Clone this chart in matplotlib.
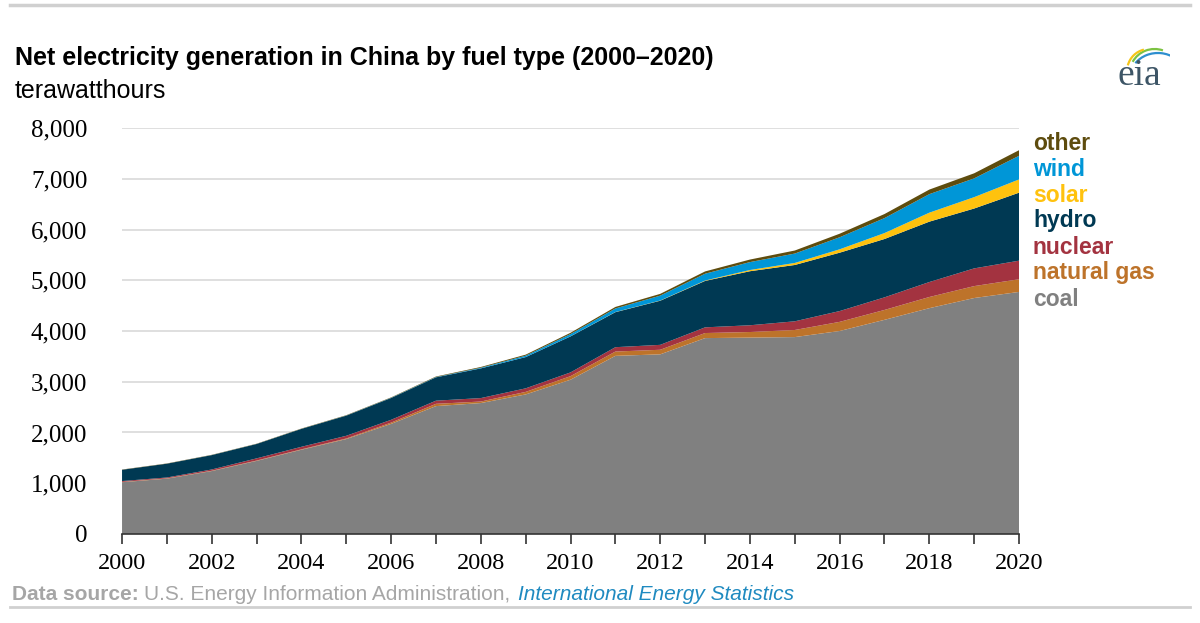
import numpy as np
import matplotlib
matplotlib.use("Agg")
import matplotlib.pyplot as plt
from matplotlib.patches import Arc
from matplotlib.lines import Line2D

# net generation, terawatthours
years = list(range(2000, 2021))
coal = [1020, 1090, 1240, 1440, 1660, 1870, 2170, 2520, 2580, 2750, 3040,
        3510, 3540, 3860, 3870, 3880, 4000, 4220, 4450, 4650, 4770]
natural_gas = [6, 6, 6, 7, 8, 12, 25, 45, 30, 50, 70,
               85, 90, 100, 110, 140, 180, 195, 220, 235, 250]
nuclear = [17, 17, 25, 43, 50, 53, 55, 62, 68, 70, 74,
           86, 97, 112, 133, 171, 213, 248, 295, 349, 366]
hydro = [222, 272, 283, 283, 353, 397, 430, 460, 585, 616, 710,
         690, 870, 915, 1065, 1110, 1150, 1150, 1190, 1180, 1340]
solar = [0, 0, 0, 0, 0, 0, 0, 0, 0, 0, 1,
         3, 4, 8, 24, 40, 67, 117, 177, 224, 261]
wind = [0, 0, 1, 1, 1, 2, 4, 6, 13, 28, 45,
        70, 96, 134, 156, 185, 237, 295, 365, 370, 466]
other = [5, 5, 5, 5, 6, 7, 8, 10, 15, 20, 25,
         30, 35, 45, 50, 60, 70, 80, 90, 100, 110]

series = [coal, natural_gas, nuclear, hydro, solar, wind, other]
names = ["coal", "natural gas", "nuclear", "hydro", "solar", "wind", "other"]
colors = ["#808080", "#bd732a", "#a33340", "#003953", "#ffc20e", "#0096d7", "#5e4c0e"]

fig = plt.figure(figsize=(12, 6.23), dpi=100)
ax = fig.add_axes([0.1017, 0.1429, 0.7475, 0.6516])

ax.stackplot(years, *series, colors=colors, linewidth=0)

ax.set_xlim(2000, 2020)
ax.set_ylim(0, 8000)
ax.set_yticks(range(0, 8001, 1000))
ax.set_yticklabels([f"{v:,}" for v in range(0, 8001, 1000)])
ax.set_xticks(range(2000, 2021, 2))
ax.set_xticks(range(2000, 2021), minor=True)
for lab in ax.get_yticklabels():
    lab.set_fontfamily("Liberation Serif")
    lab.set_fontsize(18)
for lab in ax.get_xticklabels():
    lab.set_fontfamily("Liberation Serif")
    lab.set_fontsize(17.5)
ax.tick_params(axis="y", length=0, pad=25)
ax.tick_params(axis="x", which="both", length=7, width=1.2, color="#333333", pad=7)
ax.grid(True, axis="y", color="#d9d9d9", lw=1.2)
ax.set_axisbelow(True)
for s in ("top", "right", "left"):
    ax.spines[s].set_visible(False)
ax.spines["bottom"].set_color("#333333")
ax.spines["bottom"].set_linewidth(1.2)

# labels at right, top of stack first
label_y = [143, 169, 196, 221, 247, 273, 300]
for nm, col, yp in zip(names[::-1], colors[::-1], label_y):
    fig.text(1033 / 1200, 1 - yp / 623, nm, color=col, fontsize=16.5, fontweight="bold",
             family="Liberation Sans", va="center", ha="left")

# title block
fig.text(15 / 1200, 1 - 58 / 623, "Net electricity generation in China by fuel type (2000\u20132020)",
         fontsize=18, fontweight="bold", family="Liberation Sans", va="center")
fig.text(15 / 1200, 1 - 91 / 623, "terawatthours", fontsize=18, family="Liberation Sans", va="center")

# source line
src_y = 1 - 595 / 623
fig.text(12 / 1200, src_y, "Data source:", fontsize=15, fontweight="bold",
         color="#a6a6a6", family="Liberation Sans", va="center")
fig.text(144 / 1200, src_y, "U.S. Energy Information Administration,", fontsize=15,
         color="#a6a6a6", family="Liberation Sans", va="center")
fig.text(518 / 1200, src_y, "International Energy Statistics", fontsize=15, style="italic",
         color="#1f8ac0", family="Liberation Sans", va="center")

# thin rules at top and bottom
fig.add_artist(Line2D([10 / 1200, 1190 / 1200], [1 - 5 / 623] * 2, color="#d0d0d0", lw=2.5))
fig.add_artist(Line2D([10 / 1200, 1190 / 1200], [1 - 607 / 623] * 2, color="#d0d0d0", lw=2))

# eia logo
fig.text(1139 / 1200, 1 - 76 / 623, "eia", fontsize=27, family="Liberation Serif",
         color="#3d5566", ha="center", va="center")
lax = fig.add_axes([1115 / 1200, 1 - 85 / 623, 55 / 1200, 40 / 623])
lax.set_xlim(0, 1); lax.set_ylim(0, 1); lax.axis("off")
lax.add_patch(Arc((0.78, 0.2), 1.0, 1.2, theta1=25, theta2=140, color="#2e8fcf", lw=1.6))
lax.add_patch(Arc((0.72, 0.3), 0.9, 1.2, theta1=75, theta2=145, color="#7cc242", lw=1.6))
lax.add_patch(Arc((0.62, 0.35), 0.8, 1.1, theta1=100, theta2=160, color="#f5c518", lw=1.6))

fig.savefig("out.png", dpi=100)
